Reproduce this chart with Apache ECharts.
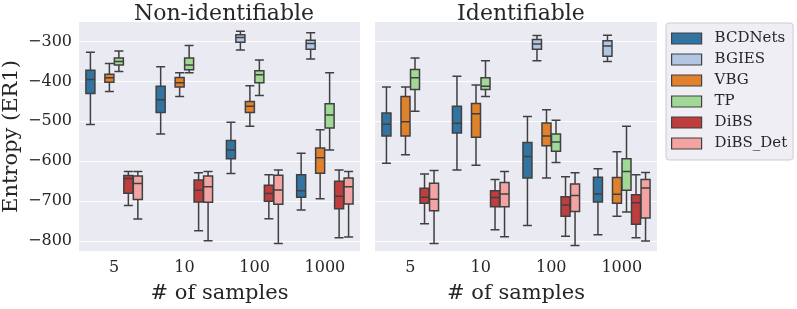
<!DOCTYPE html>
<html>
<head>
<meta charset="utf-8">
<script src="https://cdn.jsdelivr.net/npm/echarts@6/dist/echarts.min.js"></script>
<style>
html,body{margin:0;padding:0;background:#ffffff;}
#chart{width:797px;height:309px;}
</style>
</head>
<body>
<div id="chart"></div>
<script>
// Categories and tick labels
const categories = ['5', '10', '100', '1000'];
const methods = ['BCDNets', 'BGIES', 'VBG', 'TP', 'DiBS', 'DiBS_Det'];
const yTicks = [-800, -700, -600, -500, -400, -300];
const panelTitles = ['Non-identifiable', 'Identifiable'];

// Each entry: [lower whisker, Q1, median, Q3, upper whisker] per category ('-' = no box)
// Non-identifiable panel
const nonIdBCDNets  = [[-508, -430, -395, -372, -327], [-532, -478, -446, -412, -363], [-631, -594, -572, -548, -502], [-722, -690, -674, -634, -580]];
const nonIdBGIES    = ['-', '-', [-321, -302, -290, -283, -274], [-344, -319, -305, -297, -278]];
const nonIdVBG      = [[-425, -402, -391, -382, -355], [-438, -414, -403, -390, -378], [-512, -478, -462, -450, -411], [-694, -630, -591, -567, -521]];
const nonIdTP       = [[-375, -359, -350, -341, -324], [-378, -371, -359, -341, -310], [-435, -403, -383, -373, -346], [-572, -517, -484, -456, -378]];
const nonIdDiBS     = [[-711, -680, -643, -636, -626], [-774, -702, -673, -647, -629], [-744, -700, -681, -660, -634], [-792, -719, -688, -650, -622]];
const nonIdDiBSDet  = [[-745, -696, -656, -637, -626], [-799, -703, -664, -637, -626], [-806, -708, -672, -635, -622], [-790, -707, -664, -642, -626]];

// Identifiable panel
const idBCDNets  = [[-605, -537, -507, -479, -414], [-622, -529, -505, -462, -387], [-761, -642, -588, -553, -488], [-784, -702, -682, -640, -619]];
const idBGIES    = ['-', '-', [-348, -319, -306, -295, -285], [-350, -337, -311, -298, -284]];
const idVBG      = [[-584, -537, -501, -438, -414], [-610, -540, -481, -455, -409], [-642, -561, -537, -504, -471], [-738, -705, -683, -641, -576]];
const idTP       = [[-475, -420, -391, -370, -341], [-438, -420, -412, -391, -348], [-603, -575, -552, -532, -497], [-727, -673, -626, -594, -512]];
const idDiBS     = [[-757, -705, -690, -668, -632], [-772, -714, -691, -674, -646], [-788, -738, -710, -689, -639], [-792, -758, -704, -684, -634]];
const idDiBSDet  = [[-806, -724, -695, -655, -623], [-789, -714, -682, -653, -626], [-811, -726, -686, -657, -629], [-800, -742, -667, -646, -628]];

const colors = ['#3274a1', '#b2c6e3', '#e1812c', '#a0d995', '#c03d3e', '#f2a3a2'];
const panelData = [
  [nonIdBCDNets, nonIdBGIES, nonIdVBG, nonIdTP, nonIdDiBS, nonIdDiBSDet],
  [idBCDNets, idBGIES, idVBG, idTP, idDiBS, idDiBSDet]
];

const FONT = 'DejaVu Serif';
const chart = echarts.init(document.getElementById('chart'), null, {renderer: 'canvas'});

const grids = [
  {left: 78, width: 282, top: 22, height: 240, show: true, backgroundColor: '#eaeaf2', borderWidth: 0},
  {left: 375, width: 282, top: 22, height: 240, show: true, backgroundColor: '#eaeaf2', borderWidth: 0}
];

const xAxes = grids.map((g, i) => ({
  type: 'category', gridIndex: i, data: categories,
  axisLine: {show: false}, axisTick: {show: false},
  axisLabel: {fontFamily: FONT, fontSize: 16, color: '#262626', margin: 9},
  name: '# of samples', nameLocation: 'middle', nameGap: 32,
  nameTextStyle: {fontFamily: FONT, fontSize: 21, color: '#262626'},
  splitLine: {show: false}
}));

const yAxes = grids.map((g, i) => ({
  type: 'value', gridIndex: i, min: -825, max: -251,
  axisLine: {show: false},
  axisTick: {show: false, customValues: yTicks},
  axisLabel: {show: i === 0, customValues: yTicks, fontFamily: FONT, fontSize: 16, color: '#262626', margin: 7,
    formatter: v => (v < 0 ? '\u2212' + Math.abs(v) : String(v))},
  splitLine: {show: true, lineStyle: {color: '#ffffff', width: 1.2}},
  name: i === 0 ? 'Entropy (ER1)' : '', nameLocation: 'middle', nameGap: 57,
  nameTextStyle: {fontFamily: FONT, fontSize: 21, color: '#262626'}
}));

const series = [];
panelData.forEach((arrs, p) => {
  arrs.forEach((arr, m) => {
    series.push({
      name: methods[m], type: 'boxplot', xAxisIndex: p, yAxisIndex: p,
      data: arr, boxWidth: [9, 9],
      itemStyle: {color: colors[m], borderColor: '#404040', borderWidth: 1.5},
      emphasis: {disabled: true}
    });
  });
});

chart.setOption({
  animation: false,
  color: colors,
  title: [
    {text: panelTitles[0], left: 219, textAlign: 'center', top: -2, textStyle: {fontFamily: FONT, fontSize: 22, fontWeight: 'normal', color: '#262626'}},
    {text: panelTitles[1], left: 516, textAlign: 'center', top: -2, textStyle: {fontFamily: FONT, fontSize: 22, fontWeight: 'normal', color: '#262626'}}
  ],
  legend: {
    data: methods.map((n, i) => ({name: n, icon: 'rect', itemStyle: {color: colors[i], borderColor: '#404040', borderWidth: 1.2}})),
    orient: 'vertical', left: 666, top: 23,
    itemWidth: 30, itemHeight: 11, itemGap: 6,
    padding: [8, 6, 9, 5],
    backgroundColor: '#eeeef4', borderColor: '#cccccc', borderWidth: 1, borderRadius: 3,
    textStyle: {fontFamily: FONT, fontSize: 15, color: '#262626', padding: [0, 0, 0, 8]}
  },
  grid: grids, xAxis: xAxes, yAxis: yAxes, series: series
});
</script>
</body>
</html>
